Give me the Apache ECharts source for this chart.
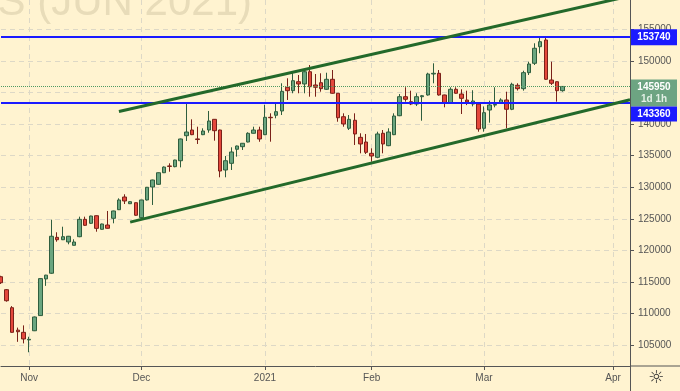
<!DOCTYPE html>
<html><head><meta charset="utf-8">
<script src="https://cdn.jsdelivr.net/npm/echarts@6/dist/echarts.min.js"></script>
<style>html,body{margin:0;padding:0;background:#fff3d0;}#c{width:680px;height:391px;}</style>
</head><body><div id="c"></div>
<script>
const dates = [
'2020-10-26','2020-10-27','2020-10-28','2020-10-29','2020-10-30',
'2020-11-02','2020-11-03','2020-11-05','2020-11-06',
'2020-11-09','2020-11-10','2020-11-11','2020-11-12','2020-11-13',
'2020-11-16','2020-11-17','2020-11-18','2020-11-19','2020-11-20',
'2020-11-23','2020-11-24','2020-11-25','2020-11-26','2020-11-27','2020-11-30',
'2020-12-01','2020-12-02','2020-12-03','2020-12-04',
'2020-12-07','2020-12-08','2020-12-09','2020-12-10','2020-12-11',
'2020-12-14','2020-12-15','2020-12-16','2020-12-17','2020-12-18',
'2020-12-21','2020-12-22','2020-12-23','2020-12-24','2020-12-25',
'2020-12-28','2020-12-29','2020-12-30',
'2021-01-04','2021-01-05','2021-01-06','2021-01-08',
'2021-01-11','2021-01-12','2021-01-13','2021-01-14','2021-01-15',
'2021-01-18','2021-01-19','2021-01-20','2021-01-21','2021-01-22',
'2021-01-25','2021-01-26','2021-01-27','2021-01-28','2021-01-29',
'2021-02-01','2021-02-02','2021-02-03','2021-02-04','2021-02-05',
'2021-02-08','2021-02-09','2021-02-10','2021-02-11','2021-02-12',
'2021-02-15','2021-02-16','2021-02-17','2021-02-18','2021-02-19',
'2021-02-20','2021-02-22','2021-02-24','2021-02-25','2021-02-26',
'2021-03-01','2021-03-02','2021-03-03','2021-03-04','2021-03-05',
'2021-03-09','2021-03-10','2021-03-11','2021-03-12',
'2021-03-15','2021-03-16','2021-03-17','2021-03-18','2021-03-19',
'2021-03-22',
'2021-03-23','2021-03-24','2021-03-25','2021-03-26',
'2021-03-29','2021-03-30','2021-03-31','2021-04-01','2021-04-02',
'2021-04-05','2021-04-06','2021-04-07'
];
const opens = [115850,113800,110950,107400,107050,105850,107300,109700,115500,116400,
122080,121700,121350,120820,122180,124930,124300,125500,123350,124030,
125090,126450,128460,127400,127560,125190,127990,130040,130470,132300,
133370,133260,134200,138160,139060,137650,138320,139060,140750,139060,
132730,133790,136010,136420,137160,138540,139060,138320,141070,141390,
142070,145820,145280,146700,146340,148280,146180,146540,145500,147080,
144870,141160,139330,140600,137900,137160,135370,134740,138540,136580,
138320,141320,144330,143540,143170,144330,144600,147920,148030,144600,
143280,145500,144750,143800,143170,143170,139330,142220,143000,143380,
143810,142340,146130,145600,148130,149610,152240,153300,146970,146700,
145280];
const closes = [114900,112050,107050,107150,106000,105950,109480,115550,116100,122250,
121700,122180,122250,121340,124930,123980,125450,123500,124190,123510,
126250,127990,127830,127720,125570,127990,130000,131150,132300,133200,
133300,134310,137640,138740,138320,137550,138900,140480,138950,132570,
134200,135580,136530,136960,138540,139060,137640,141070,141000,141960,
145180,145280,146860,146340,148280,145910,145820,145600,147080,144870,
141000,140010,140750,138430,136850,135530,134950,138430,136850,138740,
141270,144330,143920,143170,144330,144480,147920,148030,144600,143280,
145500,144870,144070,143490,143650,139220,141800,143020,143100,143810,
142340,146290,145600,148130,149500,151990,153030,147080,146450,145280,
145950];
const lows = [114700,111900,107000,105550,105300,103900,107250,109650,114400,116300,
121390,121650,120980,120800,122100,123900,124200,122970,123300,123450,
124300,126400,127350,127350,125500,125100,127900,127200,130400,132250,
132460,133160,133150,137320,138250,136850,138250,138630,137370,131580,
131580,132730,134840,135900,137100,138500,137200,138250,137210,140910,
141430,143810,144870,144870,144870,144330,144330,145120,145400,144800,
140370,139580,139060,136690,135370,135260,134050,134600,135370,136500,
138250,141250,143540,143000,142850,140530,144500,146450,144500,142650,
143200,144800,141590,143000,142800,138790,138790,140220,142650,143300,
139330,142200,145300,145280,147760,149340,151200,147000,146180,143540,
145120];
const highs = [116000,113900,111200,107800,108150,106350,109550,115600,116150,124870,
122880,123760,122300,121770,125350,125350,125500,125550,124250,126250,
126300,128250,128890,127800,127600,128000,130050,131200,132350,133300,
133790,134350,137700,143330,140750,139580,139330,142070,140800,139100,
134950,136320,136600,137000,138700,139580,139580,143060,141700,143280,
146450,147240,148280,147760,148550,149340,147920,148030,148120,148550,
144900,141700,141430,141700,138540,138430,136160,138790,139060,139330,
141700,144750,145820,145280,144870,144600,148120,149610,148550,144650,
145820,145820,145500,145280,145350,143300,142790,143700,145820,144080,
145120,146540,146450,148440,149870,152780,153820,153820,149870,146750,
146000];
const monthTicks = {5:'Nov',25:'Dec',47:'2021',66:'Feb',86:'Mar',109:'Apr'};
const yTicks = [105000,110000,115000,120000,125000,130000,135000,140000,145000,150000,155000];
const levels = [153740, 143360];
const lastPrice = 145950;
const countdown = '1d 1h';
const channelUpper = [[21,142000],[112,160260]];
const channelLower = [[23,124490],[112,143840]];
const watermark = 'RTS (JUN 2021)';

const candles = opens.map((o,i)=>[o, closes[i], lows[i], highs[i]]);
const isTick = (i)=> monthTicks[i] !== undefined;

const chart = echarts.init(document.getElementById('c'), null, {renderer:'canvas'});
const FONT = 'Liberation Sans, Arial, sans-serif';
chart.setOption({
  backgroundColor:'#fff3d0',
  animation:false,
  grid:{left:1, right:50, top:0, bottom:25},
  xAxis:{
    type:'category', data:dates, boundaryGap:false,
    axisLine:{show:true, lineStyle:{color:'#555', width:1}},
    axisTick:{show:true, interval:(i)=>isTick(i), length:4, lineStyle:{color:'#555'}},
    axisLabel:{interval:(i)=>isTick(i), formatter:(v,i)=>monthTicks[i]||'', color:'#555', fontSize:10, fontFamily:FONT, margin:7},
    splitLine:{show:true, interval:(i)=>isTick(i), lineStyle:{color:'#ddd8c6', type:[5,4]}}
  },
  yAxis:{
    type:'value', position:'right', min:101725, max:159626, scale:true,
    axisLine:{show:true, lineStyle:{color:'#555'}},
    axisTick:{show:true, customValues:yTicks, length:4, lineStyle:{color:'#555'}},
    axisLabel:{customValues:yTicks, formatter:(v)=>String(v), color:'#555', fontSize:10, fontFamily:FONT, margin:8},
    splitLine:{show:true, lineStyle:{color:'#ddd8c6', type:[5,4]}}
  },
  series:[
    {type:'candlestick', data:candles, barWidth:4,
     itemStyle:{color:'#6aa57f', color0:'#e4473b', borderColor:'#2f5e3e', borderColor0:'#7a2119', borderWidth:1},
     markLine:{silent:true, symbol:'none', label:{show:false},
       data:[
         {yAxis:levels[0], lineStyle:{color:'#1a1aff', width:2, type:'solid'}},
         {yAxis:levels[1], lineStyle:{color:'#1a1aff', width:2, type:'solid'}},
         {yAxis:lastPrice, lineStyle:{color:'#4f9a63', width:1, type:'dotted'}}
       ]}
    },
    {type:'line', data:channelUpper, symbol:'none', lineStyle:{color:'#23692a', width:3}, z:5},
    {type:'line', data:channelLower, symbol:'none', lineStyle:{color:'#23692a', width:3}, z:5}
  ]
});

const yOf = v => chart.convertToPixel({yAxisIndex:0}, v);
const gx = 631;
const gY = yOf(lastPrice);
const greenTop = gY - 7, greenH = 27;
const b1 = yOf(levels[0]) - 8;
let b2 = yOf(levels[1]) - 8;
if (b2 < greenTop + greenH) b2 = greenTop + greenH;
chart.setOption({graphic:[
  {type:'text', z:0, style:{text:watermark, x:252, y:24, align:'right', verticalAlign:'bottom', fill:'#e8dcb9', font:'42px '+FONT}},
  {type:'line', z:50, shape:{x1:630, y1:366, x2:680, y2:366}, style:{stroke:'#555', lineWidth:1}},
  {type:'line', z:50, shape:{x1:630.5, y1:366, x2:630.5, y2:391}, style:{stroke:'#555', lineWidth:1}},
  {type:'text', z:50, style:{text:'☼', x:656, y:378, align:'center', verticalAlign:'middle', fill:'#333', font:'18px DejaVu Sans'}},
  {type:'rect', z:60, shape:{x:gx, y:greenTop, width:46, height:greenH}, style:{fill:'#6da482'}},
  {type:'text', z:61, style:{text:String(lastPrice), x:gx+23, y:gY+1, align:'center', verticalAlign:'middle', fill:'#ffffff', font:'bold 10px '+FONT}},
  {type:'text', z:61, style:{text:countdown, x:gx+23, y:gY+13, align:'center', verticalAlign:'middle', fill:'#e3f0e6', font:'bold 10px '+FONT}},
  {type:'rect', z:60, shape:{x:gx, y:b1, width:46, height:16}, style:{fill:'#1a1aff'}},
  {type:'text', z:61, style:{text:String(levels[0]), x:gx+23, y:b1+8, align:'center', verticalAlign:'middle', fill:'#ffffff', font:'bold 10px '+FONT}},
  {type:'rect', z:60, shape:{x:gx, y:b2, width:46, height:15}, style:{fill:'#1a1aff'}},
  {type:'text', z:61, style:{text:String(levels[1]), x:gx+23, y:b2+7.5, align:'center', verticalAlign:'middle', fill:'#ffffff', font:'bold 10px '+FONT}}
]});
</script>
</body></html>
